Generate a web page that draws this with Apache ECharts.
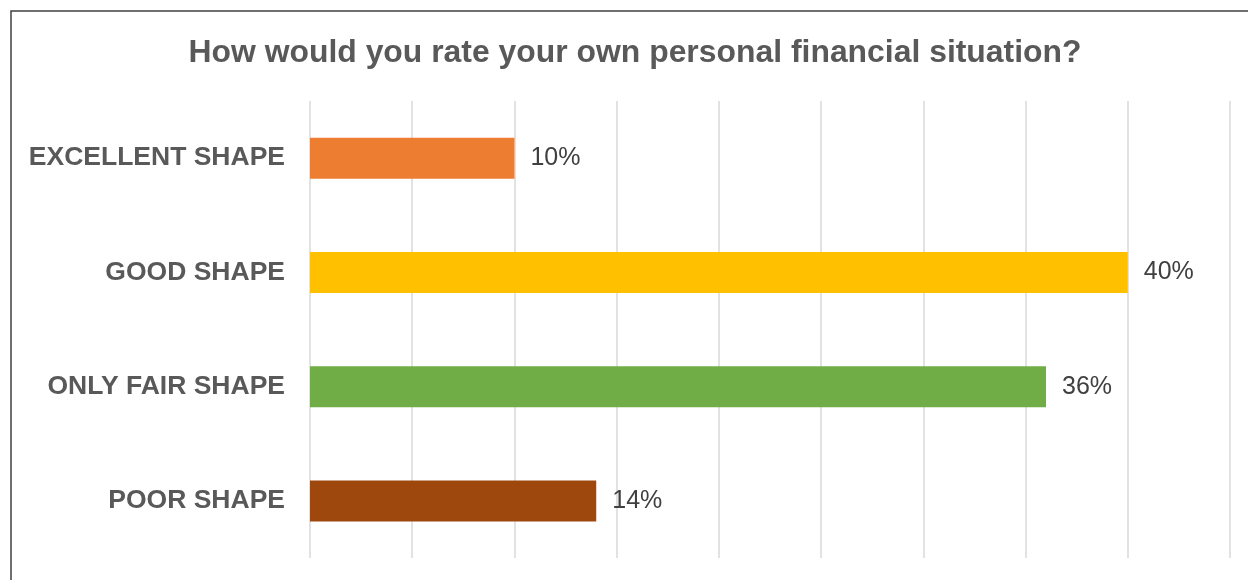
<!DOCTYPE html>
<html>
<head>
<meta charset="utf-8">
<script src="https://cdn.jsdelivr.net/npm/echarts@6/dist/echarts.min.js"></script>
<style>
  html, body { margin: 0; padding: 0; background: #ffffff; }
  #chart { width: 1248px; height: 580px; }
</style>
</head>
<body>
<div id="chart"></div>
<script>
// Survey answers, top to bottom
const categories = ['EXCELLENT SHAPE', 'GOOD SHAPE', 'ONLY FAIR SHAPE', 'POOR SHAPE'];
const shares = [10, 40, 36, 14];
const barColors = ['#ED7D31', '#FFC000', '#70AD47', '#9E480E'];
const titleText = 'How would you rate your own personal financial situation?';

const font = '"Liberation Sans", Arial, sans-serif';

const chart = echarts.init(document.getElementById('chart'), null, { renderer: 'canvas' });

chart.setOption({
  backgroundColor: '#ffffff',
  animation: false,
  title: {
    text: titleText,
    left: 630,
    top: 32,
    textAlign: 'center',
    textStyle: {
      fontFamily: font,
      fontWeight: 'bold',
      fontSize: 31.9,
      color: '#595959'
    }
  },
  graphic: [{
    type: 'rect',
    shape: { x: 11, y: 11, width: 1400, height: 800 },
    style: { fill: 'none', stroke: '#404040', lineWidth: 1.5 },
    silent: true,
    z: 100
  }],
  grid: { left: 310, right: 18, top: 101, bottom: 22, containLabel: false },
  xAxis: {
    type: 'value',
    min: 0,
    max: 45,
    interval: 5,
    axisLabel: { show: false },
    axisLine: { show: false },
    axisTick: { show: false },
    splitLine: { show: true, lineStyle: { color: '#d9d9d9', width: 1.5 } }
  },
  yAxis: {
    type: 'category',
    data: categories,
    inverse: true,
    axisLine: { show: false },
    axisTick: { show: false },
    axisLabel: {
      margin: 25,
      fontFamily: font,
      fontWeight: 'bold',
      fontSize: 26.5,
      color: '#595959'
    }
  },
  series: [{
    type: 'bar',
    data: shares.map((v, i) => ({ value: v, itemStyle: { color: barColors[i] } })),
    barWidth: 41,
    label: {
      show: true,
      position: 'right',
      distance: 16,
      formatter: '{c}%',
      fontFamily: font,
      fontSize: 25,
      color: '#404040'
    }
  }]
});
</script>
</body>
</html>
